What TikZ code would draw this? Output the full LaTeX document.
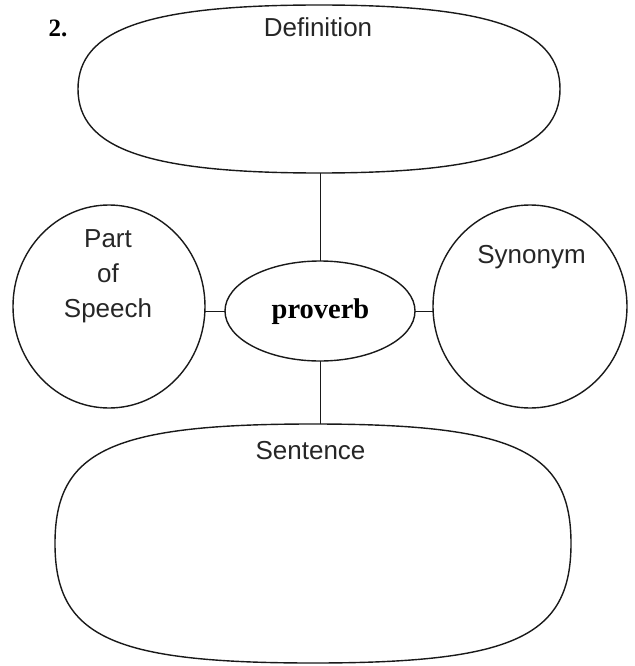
\documentclass[tikz,border=0pt]{standalone}
\usepackage{fontspec}
\newfontfamily\sansf{Liberation Sans}
\newfontfamily\seriff{Liberation Serif}
\usetikzlibrary{calc,shapes.geometric}
\newcommand{\drawblob}[2]{%
  \draw[shapeline] (#1.west)
    .. controls ($(#1.west)!#2!(#1.north west)$) and ($(#1.north)!#2!(#1.north west)$) .. (#1.north)
    .. controls ($(#1.north)!#2!(#1.north east)$) and ($(#1.east)!#2!(#1.north east)$) .. (#1.east)
    .. controls ($(#1.east)!#2!(#1.south east)$) and ($(#1.south)!#2!(#1.south east)$) .. (#1.south)
    .. controls ($(#1.south)!#2!(#1.south west)$) and ($(#1.west)!#2!(#1.south west)$) .. (#1.west) -- cycle;}
\begin{document}
\begin{tikzpicture}[x=1pt,y=-1pt,
  shapeline/.style={line width=1.4pt, black!90},
  blobbox/.style={rectangle, draw=none, inner sep=0pt, outer sep=0pt},
  ovalnode/.style={ellipse, draw, line width=1.4pt, black!90, inner sep=0pt, outer sep=0pt},
  link/.style={line width=0.8pt, black!90},
  lbl/.style={font=\sansf\fontsize{26}{35}\selectfont, text=black!85, inner sep=0pt, anchor=base, align=center},
]
\useasboundingbox (0,0) rectangle (634,666);

% shapes
\node[blobbox, minimum width=482pt, minimum height=168pt] (def) at (319,89) {};
\drawblob{def}{0.71}
\node[blobbox, minimum width=516pt, minimum height=239pt] (sent) at (313,543.5) {};
\drawblob{sent}{0.78}
\node[ovalnode, minimum width=190pt, minimum height=100pt] (prov) at (320,311) {};
\node[ovalnode, minimum width=192pt, minimum height=203pt] (pos) at (109,306.5) {};
\node[ovalnode, minimum width=194pt, minimum height=203pt] (syn) at (530,306.5) {};

% connectors
\draw[link] (prov.north) -- (prov.north |- def.south);
\draw[link] (prov.south) -- (prov.south |- sent.north);
\draw[link] (prov.west) -- (prov.west -| pos.east);
\draw[link] (prov.east) -- (prov.east -| syn.west);

% labels
\node[font=\seriff\bfseries\fontsize{25}{30}\selectfont, inner sep=0pt, anchor=base] (num) at (58,37) {2.};
\node[lbl] (deftxt) at (318,37) {Definition};
\node[lbl] (postxt) at (108,317) {Part\\of\\Speech};
\node[lbl] (syntxt) at (531.5,263) {Synonym};
\node[lbl] (senttxt) at (310.5,459) {Sentence};
\node[font=\seriff\bfseries\fontsize{28.5}{34}\selectfont, inner sep=0pt, anchor=base] (provtxt) at (320.5,318) {proverb};
\end{tikzpicture}
\end{document}
